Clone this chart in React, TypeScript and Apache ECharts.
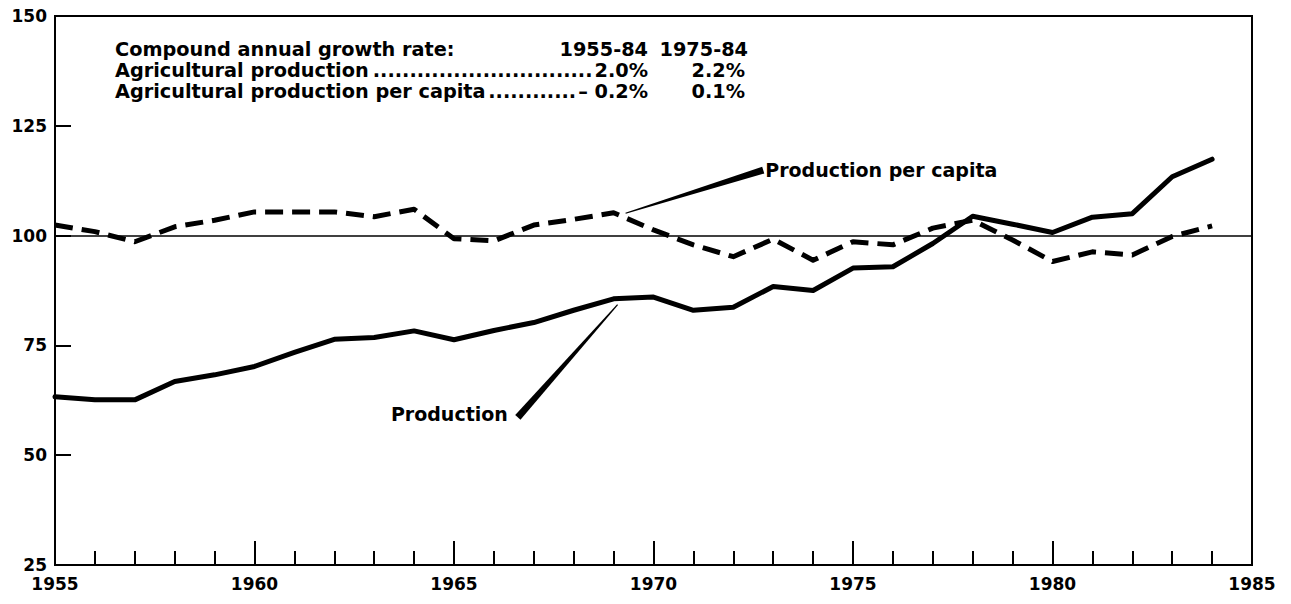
import React, { useEffect, useRef } from "react";
import * as echarts from "echarts";

const years = [1955, 1956, 1957, 1958, 1959, 1960, 1961, 1962, 1963, 1964, 1965, 1966, 1967, 1968, 1969, 1970, 1971, 1972, 1973, 1974, 1975, 1976, 1977, 1978, 1979, 1980, 1981, 1982, 1983, 1984];
const production = [63.3, 62.6, 62.6, 66.8, 68.3, 70.2, 73.4, 76.4, 76.8, 78.3, 76.3, 78.4, 80.2, 83.0, 85.6, 86.0, 83.0, 83.7, 88.4, 87.5, 92.6, 92.9, 98.2, 104.4, 102.6, 100.7, 104.2, 105.0, 113.4, 117.4];
const perCapita = [102.4, 100.9, 98.6, 102.0, 103.5, 105.4, 105.4, 105.4, 104.3, 106.0, 99.3, 98.8, 102.4, 103.7, 105.2, 101.3, 97.9, 95.2, 99.2, 94.4, 98.6, 97.9, 101.7, 103.5, 99.0, 94.1, 96.3, 95.6, 99.8, 102.2];
const referenceLevel = [100];

const growthHeader = ["Compound annual growth rate:", "1955-84", "1975-84"];
const growthRows = [
  ["Agricultural production", "2.0%", "2.2%"],
  ["Agricultural production per capita", "\u2013 0.2%", "0.1%"],
];

const annotationTexts = ["Production per capita", "Production"];
const annotationBase = [[1972.75, 114.9], [1966.6, 58.6]];
const annotationTip = [[1969.3, 105.1], [1969.1, 84.3]];

const FONT = "'DejaVu Sans', 'Liberation Sans', Arial, sans-serif";
const BOX_FONT_SIZE = 19.3;
const LABEL_FONT_SIZE = 19;

function measure(text: string, size: number): number {
  const c = document.createElement("canvas");
  const ctx = c.getContext("2d");
  if (!ctx) return text.length * size * 0.6;
  ctx.font = `bold ${size}px 'DejaVu Sans'`;
  return ctx.measureText(text).width;
}

export default function App() {
  const ref = useRef<HTMLDivElement>(null);
  useEffect(() => {
    if (!ref.current) return;
    const chart = echarts.init(ref.current, undefined, { renderer: "svg" });
    const axisLabel = {
      color: "#000",
      fontFamily: FONT,
      fontWeight: "bold" as const,
      fontSize: 17,
    };
    chart.setOption({
      animation: false,
      backgroundColor: "#fff",
      grid: { left: 55, right: 39, top: 16, bottom: 39, show: true, borderColor: "#000", borderWidth: 2, backgroundColor: "transparent" },
      xAxis: {
        type: "value",
        min: 1955,
        max: 1985,
        interval: 5,
        axisLine: { lineStyle: { color: "#000", width: 2 } },
        axisTick: { inside: true, length: 24, lineStyle: { color: "#000", width: 2 } },
        minorTick: { show: true, splitNumber: 5, length: 14, lineStyle: { color: "#000", width: 2 } },
        splitLine: { show: false },
        axisLabel: { ...axisLabel, margin: 10, formatter: (v: number) => String(v) },
      },
      yAxis: {
        type: "value",
        min: 25,
        max: 150,
        interval: 25,
        axisLine: { show: true, lineStyle: { color: "#000", width: 2 } },
        axisTick: { show: true, inside: true, length: 16, lineStyle: { color: "#000", width: 2 } },
        splitLine: { show: false },
        axisLabel: { ...axisLabel, margin: 8 },
      },
      series: [
        {
          type: "line",
          name: "Production",
          data: years.map((y, i) => [y, production[i]]),
          symbol: "none",
          lineStyle: { color: "#000", width: 5, join: "round", cap: "round" },
          z: 4,
          markLine: {
            silent: true,
            symbol: "none",
            label: { show: false },
            lineStyle: { color: "#000", width: 1.6, type: "solid" },
            data: referenceLevel.map((v) => ({ yAxis: v })),
          },
        },
        {
          type: "line",
          name: "Production per capita",
          data: years.map((y, i) => [y, perCapita[i]]),
          symbol: "none",
          lineStyle: { color: "#000", width: 5, type: [18, 9], join: "round" },
          z: 3,
        },
      ],
    });

    // Growth-rate text box
    const left = 115;
    const col1Right = 648;
    const col2Right = 748;
    const rowY = [49, 70, 91];
    const textStyle = (extra: any) => ({
      fill: "#000",
      font: `bold ${BOX_FONT_SIZE}px ${FONT}`,
      lineHeight: 20,
      textVerticalAlign: "middle",
      ...extra,
    });
    const graphics: any[] = [];
    graphics.push({ type: "text", x: left, y: rowY[0], style: textStyle({ text: growthHeader[0], textAlign: "left" }) });
    graphics.push({ type: "text", x: col1Right, y: rowY[0], style: textStyle({ text: growthHeader[1], textAlign: "right" }) });
    graphics.push({ type: "text", x: col2Right, y: rowY[0], style: textStyle({ text: growthHeader[2], textAlign: "right" }) });
    const dotW = measure(".", BOX_FONT_SIZE);
    growthRows.forEach((row, i) => {
      const y = rowY[i + 1];
      const labelW = measure(row[0], BOX_FONT_SIZE);
      const numW = measure(row[1], BOX_FONT_SIZE);
      const gap = col1Right - numW - (left + labelW) - 3;
      const n = Math.max(0, Math.floor(gap / dotW));
      graphics.push({ type: "text", x: left, y, style: textStyle({ text: row[0], textAlign: "left" }) });
      graphics.push({ type: "text", x: col1Right - numW - 2, y, style: textStyle({ text: ".".repeat(n), textAlign: "right" }) });
      graphics.push({ type: "text", x: col1Right, y, style: textStyle({ text: row[1], textAlign: "right" }) });
      graphics.push({ type: "text", x: col2Right - 3, y, style: textStyle({ text: row[2], textAlign: "right" }) });
    });

    // Annotation pointers
    annotationTexts.forEach((label, i) => {
      const b = chart.convertToPixel({ gridIndex: 0 }, annotationBase[i]) as number[];
      const t = chart.convertToPixel({ gridIndex: 0 }, annotationTip[i]) as number[];
      const dx = t[0] - b[0];
      const dy = t[1] - b[1];
      const len = Math.sqrt(dx * dx + dy * dy);
      const nx = -dy / len;
      const ny = dx / len;
      const w = 7;
      graphics.push({
        type: "polygon",
        shape: {
          points: [
            [b[0] + nx * w / 2, b[1] + ny * w / 2],
            [b[0] - nx * w / 2, b[1] - ny * w / 2],
            [t[0] - nx * 0.6, t[1] - ny * 0.6],
            [t[0] + nx * 0.6, t[1] + ny * 0.6],
          ],
        },
        style: { fill: "#000" },
        z: 10,
      });
      const isLeft = i === 0;
      graphics.push({
        type: "text",
        x: isLeft ? b[0] + 2 : b[0] - 10,
        y: isLeft ? b[1] : b[1] - 3,
        style: {
          text: label,
          fill: "#000",
          font: `bold ${LABEL_FONT_SIZE}px ${FONT}`,
          textAlign: isLeft ? "left" : "right",
          textVerticalAlign: "middle",
        },
        z: 10,
      });
    });

    chart.setOption({ graphic: graphics });
    return () => chart.dispose();
  }, []);

  return <div ref={ref} style={{ position: "absolute", left: 0, top: 0, width: 1291, height: 604 }} />;
}
